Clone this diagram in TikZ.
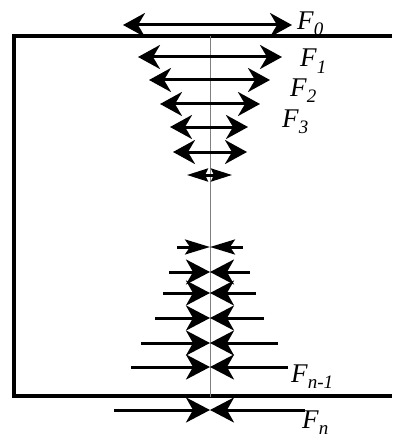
\documentclass[tikz,border=0pt]{standalone}
\usepackage{fontspec}
\setmainfont{Liberation Serif}
\usetikzlibrary{arrows.meta, positioning}

\newcommand{\flab}[2]{\textit{#1}\raisebox{-6pt}{\fontsize{19}{19}\selectfont\textit{#2}}}

\begin{document}
\begin{tikzpicture}[x=1pt, y=-1pt,
        wall/.style={line width=3.5pt},
        axisline/.style={line width=0.8pt, gray},
        outarrow/.style={line width=3pt, {Stealth[length=22pt, width=24pt, inset=7pt]}-{Stealth[length=22pt, width=24pt, inset=7pt]}},
        tinyarrow/.style={line width=3pt, {Stealth[length=21pt, width=13pt, inset=3pt]}-{Stealth[length=21pt, width=13pt, inset=3pt]}},
        inarrow/.style={line width=3pt, -{Stealth[length=24pt, width=25pt, inset=7pt]}},
        thininarrow/.style={line width=3pt, -{Stealth[length=25pt, width=15pt, inset=5pt]}},
        flabel/.style={inner sep=0pt, anchor=base west, font=\fontsize{27}{27}\selectfont}]
        \useasboundingbox (0,0) rectangle (392,441);

        % Wall
        \draw[wall] (392,36) -| (14,396) -- (392,396);

        % Axis
        \coordinate (axtop) at (210,36);
        \coordinate (axbot) at (210,397);
        \draw[axisline] (axtop) -- (axbot);

        % Outward forces
        \coordinate (l0) at (123,25);  \coordinate (r0) at (292,25);
        \coordinate (l1) at (138,57);  \coordinate (r1) at (282,57);
        \coordinate (l2) at (149,80);  \coordinate (r2) at (270,80);
        \coordinate (l3) at (160,104); \coordinate (r3) at (260,104);
        \coordinate (l4) at (170,127); \coordinate (r4) at (248,127);
        \coordinate (l5) at (173,152); \coordinate (r5) at (247,152);
        \coordinate (l6) at (187,175); \coordinate (r6) at (232,175);
        \draw[outarrow] (l0) -- (r0);
        \draw[outarrow] (l1) -- (r1);
        \draw[outarrow] (l2) -- (r2);
        \draw[outarrow] (l3) -- (r3);
        \draw[outarrow] (l4) -- (r4);
        \draw[outarrow] (l5) -- (r5);
        \draw[tinyarrow] (l6) -- (r6);

        % Inward forces
        \coordinate (c1) at (210,247); \coordinate (bl1) at (177,247); \coordinate (br1) at (243,247);
        \coordinate (c2) at (210,272); \coordinate (bl2) at (169,272); \coordinate (br2) at (250,272);
        \coordinate (c3) at (210,293); \coordinate (bl3) at (163,293); \coordinate (br3) at (256,293);
        \coordinate (c4) at (210,318); \coordinate (bl4) at (155,318); \coordinate (br4) at (264,318);
        \coordinate (c5) at (210,343); \coordinate (bl5) at (141,343); \coordinate (br5) at (278,343);
        \coordinate (c6) at (210,367); \coordinate (bl6) at (131,367); \coordinate (br6) at (288,367);
        \coordinate (cn) at (210,410); \coordinate (bln) at (114,410); \coordinate (brn) at (305,410);
        \draw[thininarrow] (bl1) -- (c1);
        \draw[thininarrow] (br1) -- (c1);
        \draw[inarrow] (bl2) -- (c2);
        \draw[inarrow] (br2) -- (c2);
        \draw[inarrow] (bl3) -- (c3);
        \draw[inarrow] (br3) -- (c3);
        \draw[inarrow] (bl4) -- (c4);
        \draw[inarrow] (br4) -- (c4);
        \draw[inarrow] (bl5) -- (c5);
        \draw[inarrow] (br5) -- (c5);
        \draw[inarrow] (bl6) -- (c6);
        \draw[inarrow] (br6) -- (c6);
        \draw[inarrow] (bln) -- (cn);
        \draw[inarrow] (brn) -- (cn);

        % Labels
        \node[flabel] (lab0) at (297,30) {\flab{F}{0}};
        \node[flabel] (lab1) at (300,67) {\flab{F}{1}};
        \node[flabel] (lab2) at (290,96) {\flab{F}{2}};
        \node[flabel] (lab3) at (282,127) {\flab{F}{3}};
        \node[flabel] (labm) at (291,382) {\flab{F}{n-1}};
        \node[flabel] (labn) at (302,428) {\flab{F}{n}};
\end{tikzpicture}
\end{document}
